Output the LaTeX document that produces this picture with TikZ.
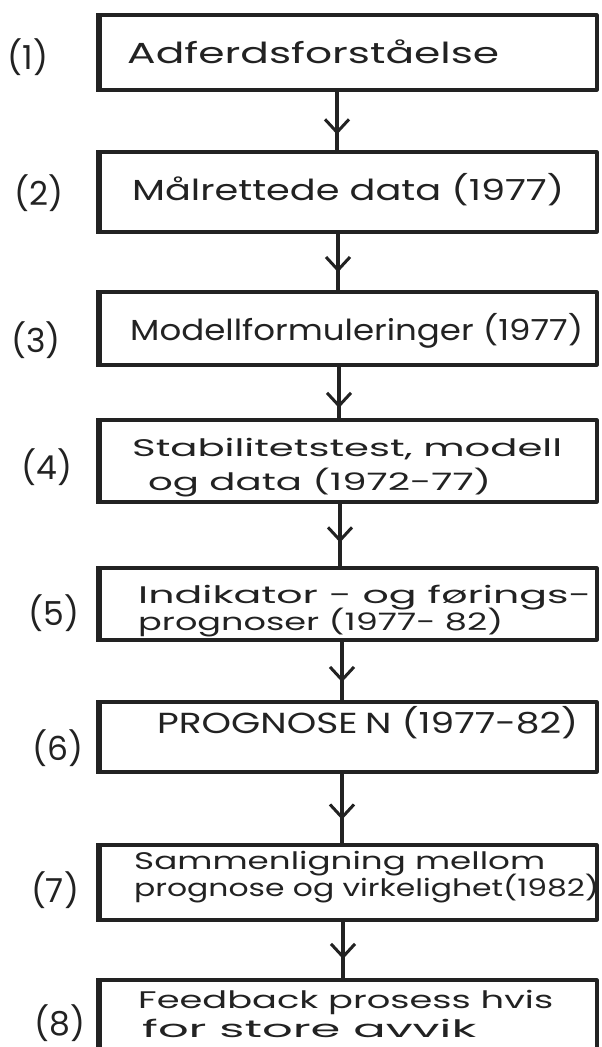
\documentclass[tikz,border=0pt]{standalone}
\usepackage{fontspec}
\setmainfont{Poppins}
\usetikzlibrary{decorations.markings,arrows.meta}
\definecolor{ink}{HTML}{222222}
\newcommand\fw[2]{\resizebox{#1pt}{\height}{#2}}
\begin{document}
\begin{tikzpicture}[x=1pt,y=-1pt,
  box/.style={draw=ink, line width=3.2pt, minimum width=497pt, inner sep=0pt, line join=round},
  txt/.style={anchor=base west, inner sep=0pt, text=ink, font=\fontsize{29}{32}\selectfont},
  txts/.style={anchor=base west, inner sep=0pt, text=ink, font=\fontsize{24}{28}\selectfont},
  lbl/.style={text=ink, inner sep=0pt, font=\fontsize{33}{36}\selectfont},
  flow/.style={draw=ink, line width=3.4pt, postaction={decorate},
    decoration={markings, mark=at position #1 with {\arrow{Straight Barb[length=13pt,width=24pt,line width=3pt]}}}}
]
\useasboundingbox (0,0) rectangle (602,1047);
\clip (0,0) rectangle (602,1047);
\fill[white] (0,0) rectangle (602,1047);

% boxes
\node[box, minimum height=75pt] (b1) at (348.5,52.5) {};
\node[box, minimum height=80pt] (b2) at (348.5,192) {};
\node[box, minimum height=73pt] (b3) at (348.5,328.5) {};
\node[box, minimum height=82pt] (b4) at (348.5,461) {};
\node[box, minimum height=72pt] (b5) at (348.5,604) {};
\node[box, minimum height=70pt] (b6) at (348.5,737) {};
\node[box, minimum height=75pt] (b7) at (348.5,882.5) {};
\node[box, minimum height=100pt] (b8) at (348.5,1030) {};
\foreach \b in {b1,b2,b3,b4,b5,b6,b7,b8}
  \draw[ink, line width=5.5pt] (\b.north west) -- (\b.south west);

% texts
\node[txt] (t1) at (127,63) {\fw{372}{Adferdsforståelse}};
\node[txt] (t2) at (132,200) {\fw{432}{Målrettede data (1977)}};
\node[txt] (t3) at (130,340) {\fw{453}{Modellformuleringer (1977)}};
\node[txts] (t4a) at (132,456) {\fw{430}{Stabilitetstest, modell}};
\node[txts] (t4b) at (148,490) {\fw{343}{og data (1972-77)}};
\node[txts] (t5a) at (138,603) {\fw{453}{Indikator - og førings-}};
\node[txts] (t5b) at (138,630) {\fw{365}{prognoser (1977- 82)}};
\node[txt] (t6) at (157,733) {\fw{421}{PROGNOSE\hspace{6pt}N (1977-82)}};
\node[txts] (t7a) at (134,869) {\fw{411}{Sammenligning mellom}};
\node[txts] (t7b) at (134,896) {\fw{465}{prognose og virkelighet(1982)}};
\node[txts] (t8a) at (138,1008) {\fw{415}{Feedback prosess hvis}};
\node[txts] (t8b) at (142,1037) {\fw{334}{for store avvik}};

% labels
\node[lbl] (l1) at (28,57) {(1)};
\node[lbl] (l2) at (39,193) {(2)};
\node[lbl] (l3) at (36,340) {(3)};
\node[lbl] (l4) at (47,467) {(4)};
\node[lbl] (l5) at (54,613) {(5)};
\node[lbl] (l6) at (58,748) {(6)};
\node[lbl] (l7) at (55,890) {(7)};
\node[lbl] (l8) at (60,1023) {(8)};

% connectors
\coordinate (ax1) at (337,0);
\coordinate (ax2) at (338,0);
\coordinate (ax3) at (339,0);
\coordinate (ax4) at (340,0);
\coordinate (ax5) at (342,0);
\coordinate (ax6) at (342,0);
\coordinate (ax7) at (343,0);
\draw[flow=0.73] (b1.south -| ax1) -- (b2.north -| ax1);
\draw[flow=0.68] (b2.south -| ax2) -- (b3.north -| ax2);
\draw[flow=0.80] (b3.south -| ax3) -- (b4.north -| ax3);
\draw[flow=0.62] (b4.south -| ax4) -- (b5.north -| ax4);
\draw[flow=0.69] (b5.south -| ax5) -- (b6.north -| ax5);
\draw[flow=0.66] (b6.south -| ax6) -- (b7.north -| ax6);
\draw[flow=0.66] (b7.south -| ax7) -- (b8.north -| ax7);
\end{tikzpicture}
\end{document}
